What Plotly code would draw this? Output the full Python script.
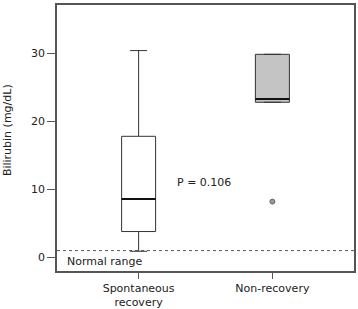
import plotly.graph_objects as go

# Data
groups = ["Spontaneous<br>recovery", "Non-recovery"]
positions = [0, 1]
q1 = [3.8, 22.8]
median = [8.6, 23.3]
q3 = [17.8, 29.85]
lowerfence = [0.9, 22.8]
upperfence = [30.4, 29.85]
fills = ["white", "#c4c4c4"]
outlier_x = [1]
outlier_y = [8.2]
normal_limit = 1.0
p_text = "P = 0.106"
y_title = "Bilirubin (mg/dL)"

box_w = 0.254
line_col = "#333333"
font = dict(family="DejaVu Sans", size=11, color="#222222")

fig = go.Figure()
for i in range(len(groups)):
    fig.add_trace(go.Box(
        x=[positions[i]], q1=[q1[i]], median=[median[i]], q3=[q3[i]],
        lowerfence=[lowerfence[i]], upperfence=[upperfence[i]],
        width=box_w, whiskerwidth=0.5, fillcolor=fills[i],
        line=dict(color=line_col, width=1), boxpoints=False,
        hoverinfo="skip", showlegend=False,
    ))
    # thicker median line
    fig.add_trace(go.Scatter(
        x=[positions[i] - box_w / 2, positions[i] + box_w / 2],
        y=[median[i], median[i]], mode="lines",
        line=dict(color="#111111", width=2), showlegend=False, hoverinfo="skip",
    ))

fig.add_trace(go.Scatter(
    x=outlier_x, y=outlier_y, mode="markers",
    marker=dict(size=5, color="#9a9a9a", line=dict(color="#666666", width=1)),
    showlegend=False, hoverinfo="skip",
))

fig.add_shape(type="line", xref="paper", x0=0, x1=1, yref="y",
              y0=normal_limit, y1=normal_limit,
              line=dict(color="#555555", width=1, dash="3px,3px"))

fig.add_annotation(x=0.027, xref="paper", y=-0.65, yref="y", text="Normal range",
                   showarrow=False, xanchor="left", yanchor="middle", font=font)
fig.add_annotation(x=0.274, y=11.0, text=p_text, showarrow=False,
                   xanchor="left", yanchor="middle", font=font)
fig.add_annotation(x=-0.168, xref="paper", y=0.53, yref="paper", text=y_title,
                   textangle=-90, showarrow=False, xanchor="center", yanchor="middle",
                   font=font)

fig.update_xaxes(range=[-0.61, 1.61], tickvals=positions, ticktext=groups,
                 ticks="outside", ticklen=6, tickcolor="#555555",
                 showline=True, linecolor="#555555", linewidth=1.5, mirror=True,
                 showgrid=False, zeroline=False, tickfont=font, automargin=False)
fig.update_yaxes(range=[-2.0, 37.1], tickvals=[0, 10, 20, 30],
                 ticks="outside", ticklen=8, tickcolor="#555555",
                 showline=True, linecolor="#555555", linewidth=1.5, mirror=True,
                 showgrid=False, zeroline=False, tickfont=font, automargin=False)

fig.update_layout(width=358, height=309, margin=dict(l=57, r=4, t=5, b=38),
                  plot_bgcolor="white", paper_bgcolor="white", font=font)

fig.write_html("out.html")
